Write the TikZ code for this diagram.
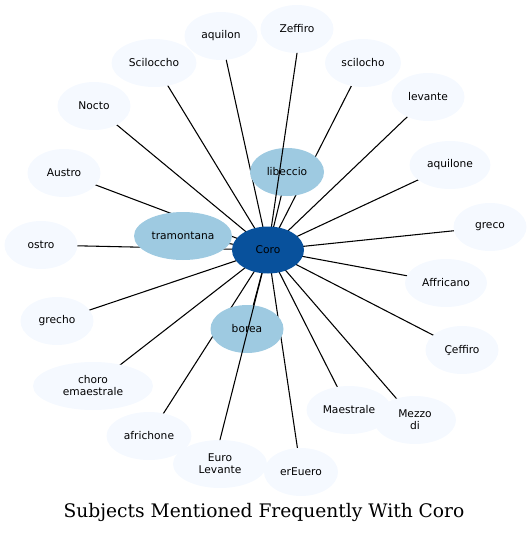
\documentclass[tikz,border=0pt]{standalone}
\usepackage{fontspec}
\newfontfamily\nodefont{DejaVu Sans}
\newfontfamily\titlefont{DejaVu Serif}
\usetikzlibrary{shapes.geometric}
\definecolor{palenode}{HTML}{F5F9FF}
\definecolor{midnode}{HTML}{9ECAE1}
\definecolor{hubnode}{HTML}{08519C}
\pgfdeclarelayer{edges}
\pgfdeclarelayer{hub}
\pgfsetlayers{edges,main,hub}

\begin{document}
\begin{tikzpicture}[x=0.75pt,y=-0.75pt,line cap=round,line join=round,
  every node/.style={inner sep=0pt},
  subj/.style={ellipse,fill=palenode,minimum width=73*0.75pt,minimum height=48*0.75pt,font=\nodefont\fontsize{8}{9}\selectfont,align=center},
  near/.style={subj,fill=midnode},
  wd/.style={minimum width=#1*0.75pt},
  link/.style={line width=0.8pt}]
  \useasboundingbox (0,0) rectangle (532,533);
  \begin{pgfonlayer}{hub}
    \node[subj,fill=hubnode,wd=72,minimum height=47*0.75pt] (coro) at (268,250) {Coro};
  \end{pgfonlayer}
  \node[subj] (zeffiro) at (297,29) {Zeffiro};
  \node[subj] (aquilon) at (221,36) {aquilon};
  \node[subj,wd=85] (sciloccho) at (154,63) {Sciloccho};
  \node[subj,wd=76] (scilocho) at (363,63) {scilocho};
  \node[subj] (levante) at (428,97) {levante};
  \node[subj] (nocto) at (94,106) {Nocto};
  \node[near,wd=74] (libeccio) at (287,172) {libeccio};
  \node[subj,wd=81] (aquilone) at (450,165) {aquilone};
  \node[subj] (austro) at (64,173) {Austro};
  \node[subj] (greco) at (490,227) {greco};
  \node[near,wd=98] (tramontana) at (183,236) {tramontana};
  \node[subj] (ostro) at (41,245) {ostro};
  \node[subj,wd=82] (affricano) at (446,283) {Affricano};
  \node[subj] (grecho) at (57,321) {grecho};
  \node[near] (borea) at (247,329) {borea};
  \node[subj] (ceffiro) at (462,350) {Çeffiro};
  \node[subj,wd=120] (choro) at (93,386) {choro\\emaestrale};
  \node[subj,wd=85] (maestrale) at (349,410) {Maestrale};
  \node[subj,wd=82] (mezzodi) at (415,420) {Mezzo\\di};
  \node[subj,wd=85] (africhone) at (149,436) {africhone};
  \node[subj,wd=94] (eurolevante) at (220,464) {Euro\\Levante};
  \node[subj,wd=74] (ereuero) at (301,472) {erEuero};
  \begin{pgfonlayer}{edges}
    \foreach \n in {aquilon,sciloccho,scilocho,levante,nocto,libeccio,aquilone,austro,greco,
      tramontana,ostro,affricano,grecho,borea,ceffiro,choro,maestrale,mezzodi,africhone,ereuero}
      \draw[link] (coro.center) -- (\n.center);
  \end{pgfonlayer}
  \draw[link] (coro.center) -- (zeffiro.south);
  \draw[link] (coro.center) -- (eurolevante.north);
  \node[anchor=base,font=\titlefont\fontsize{14}{17}\selectfont] (title) at (264,517) {Subjects Mentioned Frequently With Coro};
\end{tikzpicture}
\end{document}
